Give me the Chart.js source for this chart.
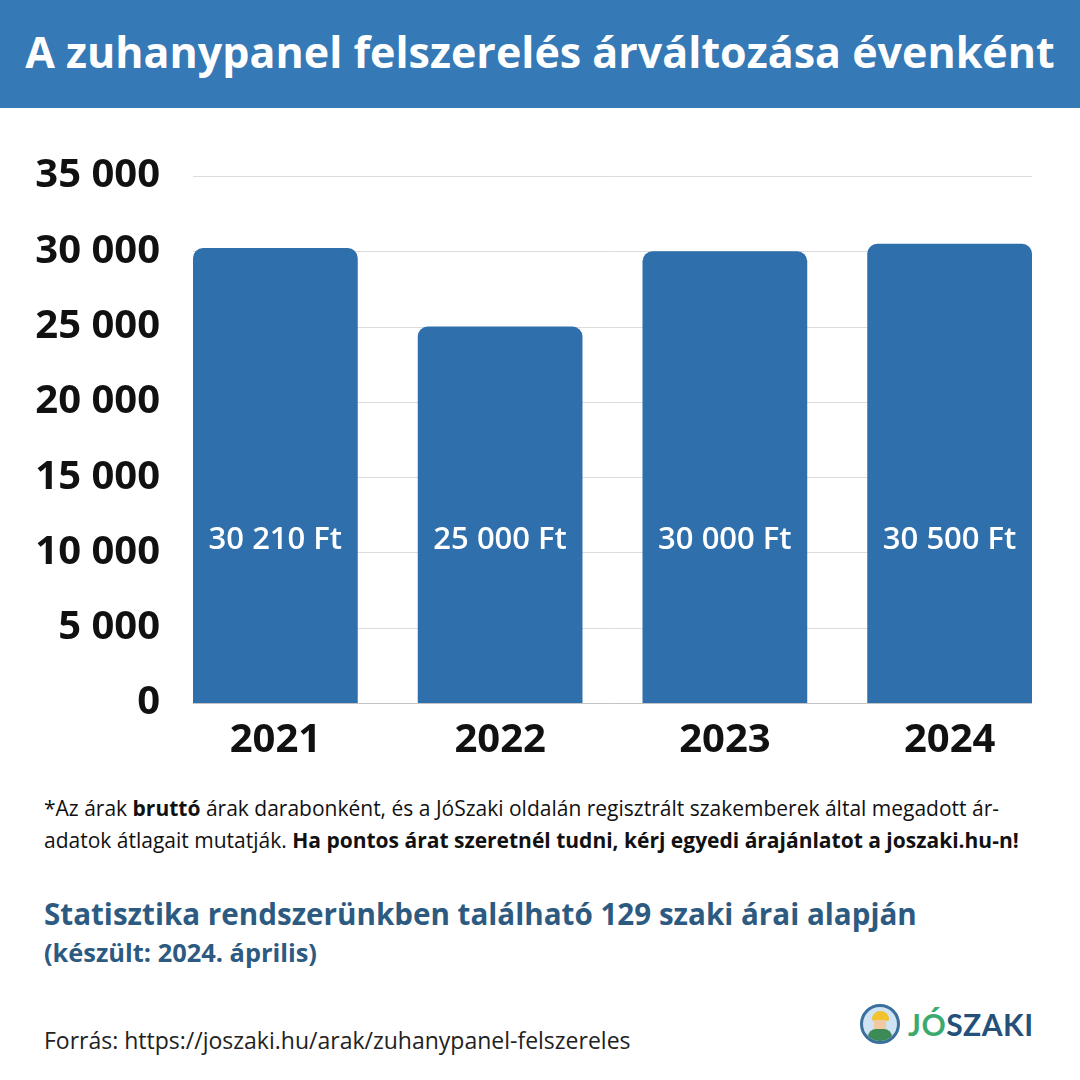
<!DOCTYPE html>
<html lang="hu">
<head>
  <meta charset="UTF-8" />
  <title>Zuhanypanel felszerelés árváltozása</title>
  <script src="https://cdn.jsdelivr.net/npm/chart.js"></script>
  <style>
    body {
      margin: 0;
      width: 1080px;
      height: 1080px;
      background: #fff;
      font-family: 'Open Sans', sans-serif;
      position: relative;
      overflow: hidden;
    }

    #header {
      position: absolute;
      left: 0; top: 0;
      width: 1080px;
      height: 108px;
      background: #3579b6;
      color: #fff;
      font-size: 43px;
      font-weight: 700;
      text-align: center;
      line-height: 104px;
      white-space: nowrap;
    }

    #chartBox {
      position: absolute;
      left: 0; top: 149px;
      width: 1080px;
      height: 621px;
    }

    .note {
      position: absolute;
      left: 44px;
      width: 1036px;
      font-size: 21px;
      line-height: 32px;
      color: #111;
      white-space: nowrap;
    }

    .stat {
      position: absolute;
      left: 44px;
      color: #2d5a80;
      font-weight: 700;
      white-space: nowrap;
    }

    #source {
      position: absolute;
      left: 44px; top: 1024px;
      font-size: 23px;
      color: #222;
    }

    #logo {
      position: absolute;
      left: 860px; top: 1004px;
      display: flex;
      align-items: center;
    }
    #logo .icon {
      position: relative;
      width: 34px; height: 34px;
      border-radius: 50%;
      border: 3px solid #3a6f9e;
      background: #cfe3f3;
      margin-right: 8px;
      overflow: hidden;
    }
    #logo .icon .helmet {
      position: absolute;
      left: 9px; top: 4px;
      width: 17px; height: 10px;
      border-radius: 9px 9px 2px 2px;
      background: #f2c230;
    }
    #logo .icon .face {
      position: absolute;
      left: 11px; top: 13px;
      width: 12px; height: 9px;
      background: #f1c9a0;
    }
    #logo .icon .body {
      position: absolute;
      left: 5px; top: 22px;
      width: 24px; height: 14px;
      border-radius: 8px 8px 0 0;
      background: #3c8a55;
    }
    #logo .txt {
      font-family: 'Lato', sans-serif;
      font-weight: 700;
      font-size: 30px;
      letter-spacing: 0.5px;
    }
  </style>
</head>
<body>
  <div id="header">A zuhanypanel felszerelés árváltozása évenként</div>

  <div id="chartBox"><canvas id="priceChart"></canvas></div>

  <div class="note" style="top: 792px;">*Az árak <b>bruttó</b> árak darabonként, és a JóSzaki oldalán regisztrált szakemberek által megadott ár-<br>adatok átlagait mutatják. <b>Ha pontos árat szeretnél tudni, kérj egyedi árajánlatot a joszaki.hu-n!</b></div>

  <div class="stat" style="top: 893px; font-size: 29.6px;">Statisztika rendszerünkben található 129 szaki árai alapján</div>
  <div class="stat" style="top: 935px; font-size: 25.4px;">(készült: 2024. április)</div>

  <div id="source">Forrás: https://joszaki.hu/arak/zuhanypanel-felszereles</div>

  <div id="logo">
    <div class="icon"><div class="helmet"></div><div class="face"></div><div class="body"></div></div>
    <div class="txt"><span style="color:#3aaa6e">JÓ</span><span style="color:#24507a">SZAKI</span></div>
  </div>

  <script>
    const years = ['2021', '2022', '2023', '2024'];
    const prices = [30210, 25000, 30000, 30500];
    const yMax = 35000;
    const yStep = 5000;
    const labelLevel = 10800; // where the value labels sit inside the bars

    function fmt(n) {
      return String(n).replace(/\B(?=(\d{3})+(?!\d))/g, ' ');
    }

    // grid lines only span from the first bar's left edge to the last bar's right edge
    const shortGrid = {
      id: 'shortGrid',
      beforeDatasetsDraw(chart) {
        const ctx = chart.ctx;
        const yScale = chart.scales.y;
        const bars = chart.getDatasetMeta(0).data;
        const first = bars[0], last = bars[bars.length - 1];
        const x0 = first.x - first.width / 2;
        const x1 = last.x + last.width / 2;
        ctx.save();
        ctx.lineWidth = 1;
        yScale.ticks.forEach(t => {
          const y = Math.round(yScale.getPixelForValue(t.value)) + 0.5;
          ctx.strokeStyle = t.value === 0 ? '#c4c4c4' : '#dcdcdc';
          ctx.beginPath();
          ctx.moveTo(x0, y);
          ctx.lineTo(x1, y);
          ctx.stroke();
        });
        ctx.restore();
      }
    };

    // white "xx xxx Ft" text inside each bar
    const valueLabels = {
      id: 'valueLabels',
      afterDatasetsDraw(chart) {
        const ctx = chart.ctx;
        const yScale = chart.scales.y;
        const meta = chart.getDatasetMeta(0);
        ctx.save();
        ctx.fillStyle = '#fff';
        ctx.font = "600 31px 'Open Sans'";
        ctx.textAlign = 'center';
        ctx.textBaseline = 'middle';
        meta.data.forEach((bar, i) => {
          ctx.fillText(fmt(prices[i]) + ' Ft', bar.x, yScale.getPixelForValue(labelLevel));
        });
        ctx.restore();
      }
    };

    new Chart(document.getElementById('priceChart'), {
      type: 'bar',
      data: {
        labels: years,
        datasets: [{
          data: prices,
          backgroundColor: '#2f6fab',
          borderRadius: 10,
          borderSkipped: 'start',
          barPercentage: 0.733,
          categoryPercentage: 1
        }]
      },
      options: {
        responsive: true,
        maintainAspectRatio: false,
        animation: false,
        layout: { padding: { top: 0, right: 18, left: 0, bottom: 0 } },
        plugins: {
          legend: { display: false },
          tooltip: { enabled: false }
        },
        scales: {
          x: {
            grid: { display: false, drawTicks: false },
            border: { display: false },
            ticks: {
              color: '#111',
              padding: 14,
              font: { family: 'Open Sans', size: 40, weight: '700' }
            },
            afterFit(scale) { scale.height = 67; }
          },
          y: {
            min: 0,
            max: yMax,
            grid: { display: false, drawTicks: false },
            border: { display: false },
            ticks: {
              stepSize: yStep,
              color: '#111',
              padding: 3,
              font: { family: 'Open Sans', size: 40, weight: '700' },
              callback: v => fmt(v)
            },
            afterFit(scale) { scale.width = 163; }
          }
        }
      },
      plugins: [shortGrid, valueLabels]
    });
  </script>
</body>
</html>
